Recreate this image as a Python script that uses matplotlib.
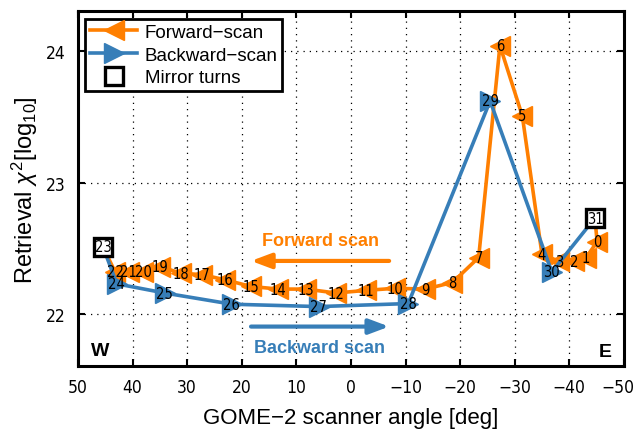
import numpy as np
import matplotlib
matplotlib.use('Agg')
import matplotlib.pyplot as plt
import matplotlib.transforms as mtransforms
from matplotlib.lines import Line2D

plt.rcParams['font.family'] = ['Liberation Sans', 'DejaVu Sans']
plt.rcParams['mathtext.fontset'] = 'custom'
plt.rcParams['mathtext.rm'] = 'Liberation Sans'
plt.rcParams['mathtext.it'] = 'Liberation Sans:italic'
plt.rcParams['axes.unicode_minus'] = True

# scanner position index 0..31, angle [deg] and retrieval chi2 [log10]
pixel_index = list(range(32))
scan_angle = [-45.1, -43.1, -40.9, -38.2, -35.0, -31.4, -27.3, -23.4, -18.6, -13.6,
              -8.1, -2.7, 2.75, 8.2, 13.3, 18.3, 23.0, 27.3, 31.1, 34.9,
              38.0, 40.7, 43.2, 45.4, 42.9, 34.1, 21.8, 5.9, -10.5, -25.5,
              -36.8, -44.7]
chi2_log = [22.55, 22.43, 22.40, 22.40, 22.455, 23.506, 24.04, 22.43, 22.24, 22.19,
            22.196, 22.18, 22.16, 22.19, 22.19, 22.21, 22.26, 22.30, 22.31, 22.36,
            22.32, 22.32, 22.32, 22.51, 22.23, 22.16, 22.075, 22.057, 22.08, 23.62,
            22.32, 22.73]

forward_idx = [31] + list(range(0, 23)) + [23]
backward_idx = list(range(23, 32))
forward_pts = list(range(0, 23))
backward_pts = list(range(24, 31))
turn_pts = [23, 31]

orange = '#FF7F00'
blue = '#377EB8'

x = np.array(scan_angle)
y = np.array(chi2_log)

fig = plt.figure(figsize=(6.34, 4.31), dpi=100)
ax = fig.add_axes([0.123, 0.149, 0.861, 0.822])

# forward scan
ax.plot(x[forward_idx], y[forward_idx], '-', color=orange, lw=2.6, zorder=2)
ax.plot(x[forward_pts], y[forward_pts], '<', color=orange, ms=15, mec=orange, zorder=3)
# backward scan
ax.plot(x[backward_idx], y[backward_idx], '-', color=blue, lw=2.6, zorder=4)
ax.plot(x[backward_pts], y[backward_pts], '>', color=blue, ms=15, mec=blue, zorder=5)
# mirror turns
ax.plot(x[turn_pts], y[turn_pts], 's', mfc='white', mec='black', mew=2.4, ms=13, zorder=6)

for i in pixel_index:
    ax.text(x[i], y[i], str(i), ha='center', va='center', fontsize=10.5,
            family='DejaVu Sans', fontstretch='condensed', zorder=7)

# annotations
ax.text(5.6, 22.563, 'Forward scan', color=orange, fontsize=13, fontweight='bold',
        ha='center', va='center')
ax.annotate('', xy=(18.3, 22.404), xytext=(-7.0, 22.404),
            arrowprops=dict(arrowstyle='-|>,head_length=1.2,head_width=0.45',
                            color=orange, lw=3, shrinkA=0, shrinkB=0))
ax.annotate('', xy=(-7.0, 21.905), xytext=(18.3, 21.905),
            arrowprops=dict(arrowstyle='-|>,head_length=1.2,head_width=0.45',
                            color=blue, lw=3, shrinkA=0, shrinkB=0))
ax.text(5.8, 21.748, 'Backward scan', color=blue, fontsize=13, fontweight='bold',
        ha='center', va='center')
ax.text(45.9, 21.72, 'W', fontsize=14, fontweight='bold', ha='center', va='center')
ax.text(-46.6, 21.715, 'E', fontsize=14, fontweight='bold', ha='center', va='center')

ax.set_xlim(50, -50)
ax.set_ylim(21.607, 24.3)
ax.set_xticks(np.arange(50, -51, -10))
ax.set_yticks([22, 23, 24])
ax.grid(True, color='black', linestyle=(0, (1, 4)), lw=0.9)
ax.tick_params(direction='in', top=True, right=True, length=5, width=1.5,
               labelsize=12.5, pad=9)
for lab in ax.get_xticklabels() + ax.get_yticklabels():
    lab.set_family('DejaVu Sans')
    lab.set_fontstretch('condensed')
# keep the last x tick label inside the figure
last = ax.get_xticklabels()[-1]
last.set_transform(last.get_transform() +
                   mtransforms.ScaledTranslation(-6 / 100, 0, fig.dpi_scale_trans))
for sp in ax.spines.values():
    sp.set_linewidth(2.2)

ax.set_xlabel('GOME\u22122 scanner angle [deg]', fontsize=16, labelpad=8)
ax.set_ylabel(r'Retrieval $\chi^2$[log$_{10}$]', fontsize=17, labelpad=4)

handles = [
    Line2D([], [], color=orange, lw=2.6, marker='<', ms=15),
    Line2D([], [], color=blue, lw=2.6, marker='>', ms=15),
    Line2D([], [], color='none', marker='s', mfc='white', mec='black', mew=2.4, ms=13),
]
leg = ax.legend(handles, ['Forward\u2212scan', 'Backward\u2212scan', 'Mirror turns'],
                loc='upper left', fontsize=13.5, fancybox=False, framealpha=1,
                edgecolor='black', handlelength=2.5, handletextpad=0.4,
                borderpad=0.25, labelspacing=0.3, borderaxespad=0.4)
leg.get_frame().set_linewidth(2)

fig.savefig('out.png', dpi=100)
